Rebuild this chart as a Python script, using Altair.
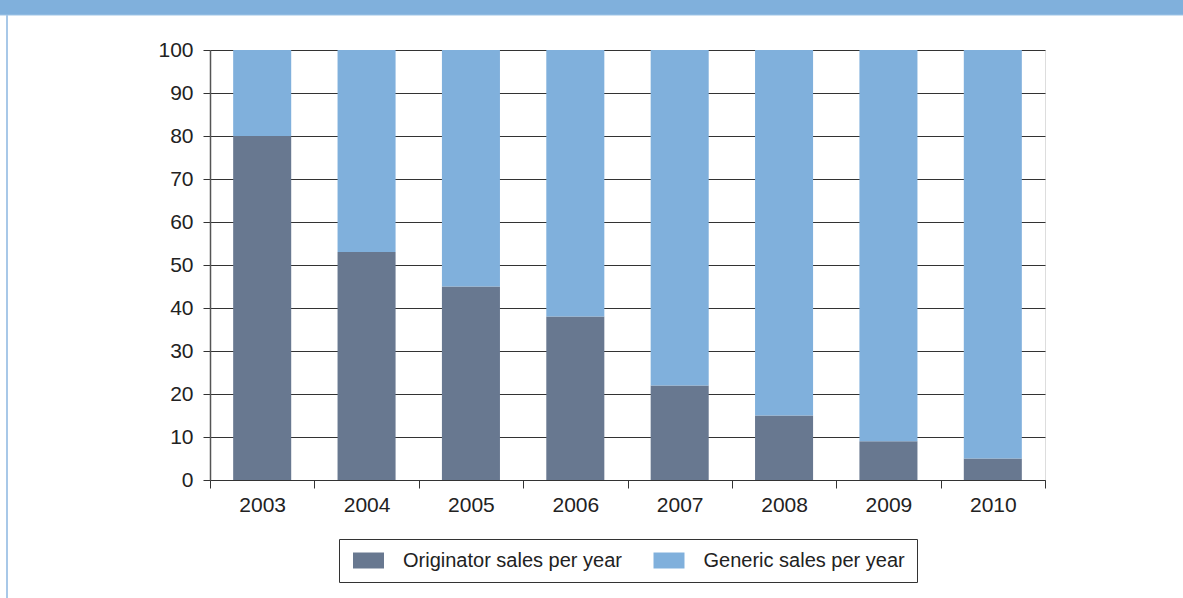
import altair as alt
import pandas as pd

years = ["2003", "2004", "2005", "2006", "2007", "2008", "2009", "2010"]
originator = [80, 53, 45, 38, 22, 15, 9, 5]
generic = [20, 47, 55, 62, 78, 85, 91, 95]
series_names = ["Originator sales per year", "Generic sales per year"]
series_colors = ["#687890", "#80B0DC"]

rows = []
for i, y in enumerate(years):
    rows.append({"year": y, "series": series_names[0], "value": originator[i], "ord": 0})
    rows.append({"year": y, "series": series_names[1], "value": generic[i], "ord": 1})
df = pd.DataFrame(rows)

FONT = "Liberation Sans"

bars = alt.Chart(df).mark_bar(width={"band": 0.556}).encode(
    x=alt.X("year:N", sort=years, title=None,
            scale=alt.Scale(paddingInner=0, paddingOuter=0),
            axis=alt.Axis(labelAngle=0, tickBand="extent", tickSize=8, tickColor="#333",
                          domainColor="#333", labelPadding=6, labelFontSize=21,
                          labelColor="#222", labelFont=FONT, grid=False)),
    y=alt.Y("value:Q", stack="zero", title=None,
            scale=alt.Scale(domain=[0, 100], nice=False),
            axis=alt.Axis(values=list(range(0, 101, 10)), tickSize=7, tickColor="#333",
                          domainColor="#555", domainWidth=1.5, gridColor="#333",
                          gridWidth=1, grid=True, labelPadding=10, labelFontSize=21,
                          labelColor="#222", labelFont=FONT)),
    color=alt.Color("series:N", title=None,
                    scale=alt.Scale(domain=series_names, range=series_colors),
                    legend=alt.Legend(orient="none", legendX=129, legendY=489,
                                      direction="horizontal", strokeColor="#333",
                                      fillColor="white", padding=11.5,
                                      symbolType="M-0.75,-0.8L2.35,-0.8L2.35,0.8L-0.75,0.8Z",
                                      symbolSize=400, symbolStrokeWidth=0,
                                      symbolOpacity=1, labelFontSize=20, labelFont=FONT,
                                      labelColor="#222", labelOffset=32.5, columnPadding=28.5,
                                      labelLimit=0)),
    order=alt.Order("ord:Q"),
)

deco = pd.DataFrame({"k": [0]})
band = alt.Chart(deco).mark_rect(color="#80B0DC").encode(
    x=alt.value(-210), x2=alt.value(973), y=alt.value(-50), y2=alt.value(-35))
band_edge = alt.Chart(deco).mark_rule(color="#9EC4E6", strokeWidth=1).encode(
    x=alt.value(-210), x2=alt.value(973), y=alt.value(-35))
left_line = alt.Chart(deco).mark_rule(color="#A8C8E8", strokeWidth=2).encode(
    x=alt.value(-203), y=alt.value(-35), y2=alt.value(548))

chart = alt.layer(bars, band, band_edge, left_line).properties(
    width=835, height=430,
    autosize=alt.AutoSizeParams(type="none"),
    padding={"left": 210, "top": 50, "right": 138, "bottom": 118},
).configure_view(stroke=None).configure(background="white")

chart.save("out.html", embed_options={"renderer": "svg", "actions": False})
